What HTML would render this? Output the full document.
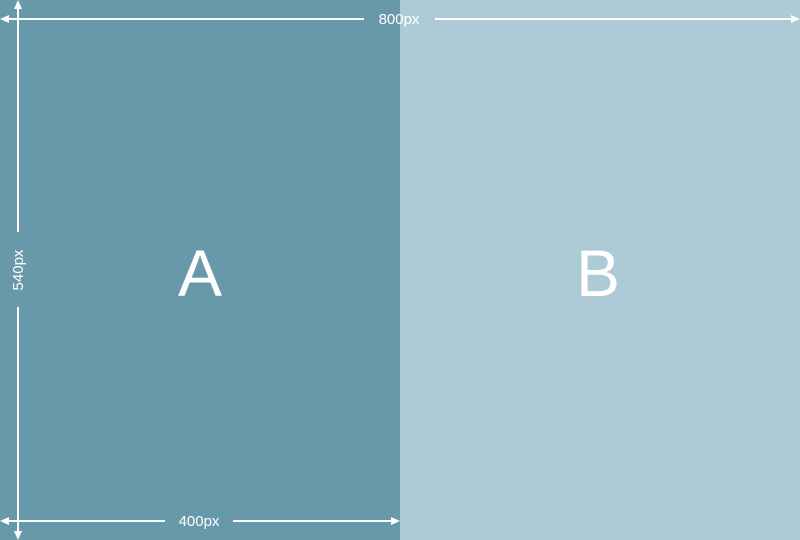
<!DOCTYPE html>
<html><head><meta charset="utf-8"><style>
html,body{margin:0;padding:0;width:800px;height:540px;overflow:hidden;}
svg{display:block;font-family:"Liberation Sans",sans-serif;}
</style></head><body>
<svg width="800" height="540" viewBox="0 0 800 540">
<rect x="0" y="0" width="400" height="540" fill="#6899aa"/>
<rect x="400" y="0" width="400" height="540" fill="#adcad7"/>
<text x="200" y="296" text-anchor="middle" font-size="66" font-weight="300" fill="#fff">A</text>
<text x="598" y="296" text-anchor="middle" font-size="66" font-weight="300" fill="#fff">B</text>
<g stroke="#fff" stroke-width="2" fill="none">
<line x1="6" y1="19" x2="364" y2="19"/>
<line x1="435" y1="19" x2="794" y2="19"/>
<line x1="18" y1="6" x2="18" y2="232"/>
<line x1="18" y1="307" x2="18" y2="534"/>
<line x1="6" y1="521" x2="165" y2="521"/>
<line x1="233" y1="521" x2="392" y2="521"/>
</g>
<g fill="#fff">
<polygon points="0,19 9,15 9,23"/>
<polygon points="800,19 791,15 791,23"/>
<polygon points="18,0 14,9 22,9"/>
<polygon points="18,540 14,531 22,531"/>
<polygon points="0,521 9,517 9,525"/>
<polygon points="400,521 391,517 391,525"/>
</g>
<text x="399" y="24" text-anchor="middle" font-size="15" fill="#fff">800px</text>
<text x="199" y="526" text-anchor="middle" font-size="15" fill="#fff">400px</text>
<text x="0" y="0" transform="translate(23,270) rotate(-90)" text-anchor="middle" font-size="15" fill="#fff">540px</text>
</svg>
</body></html>
